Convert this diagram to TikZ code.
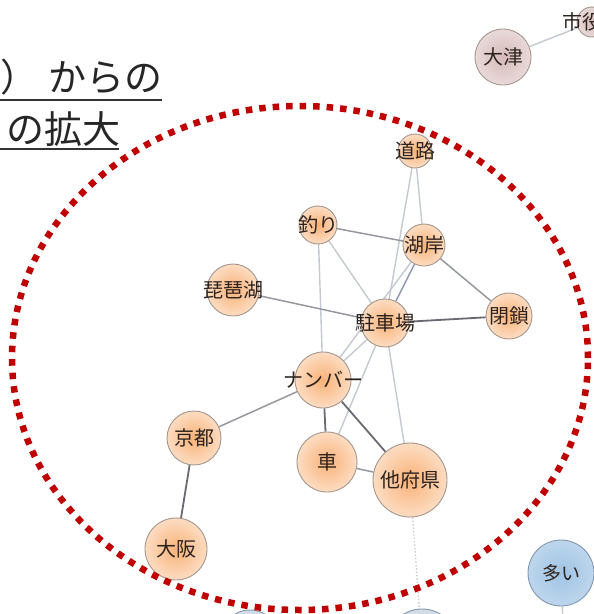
\documentclass[tikz,border=0pt]{standalone}
\usepackage{fontspec}
\setmainfont{Noto Sans CJK JP}
\usetikzlibrary{backgrounds}
\definecolor{kwfill}{RGB}{249,178,120}
\definecolor{kwrim}{RGB}{165,150,140}
\definecolor{otsufill}{RGB}{214,186,186}
\definecolor{bluefill}{RGB}{160,196,228}
\definecolor{bluerim}{RGB}{130,150,175}
\definecolor{greyblue}{RGB}{185,200,215}
\definecolor{edgedark}{RGB}{105,105,115}
\definecolor{edgemid}{RGB}{150,152,160}
\definecolor{edgeblue}{RGB}{140,152,178}
\definecolor{edgelight}{RGB}{196,200,210}
\definecolor{circlered}{RGB}{192,0,0}
\definecolor{labeltext}{RGB}{45,35,30}

\begin{document}
\begin{tikzpicture}[x=1pt, y=-1pt,
    kw/.style={circle, draw=kwrim, line width=0.9pt, inner sep=0pt, minimum size=#1,
      inner color=kwfill, outer color=kwfill!45},
    every label/.style={font=\fontsize{20}{20}\selectfont, text=labeltext},
    strong/.style={draw=edgedark, line width=1.8pt},
    mid/.style={draw=edgemid, line width=1.5pt},
    weak/.style={draw=edgelight, line width=1.4pt}]
    \useasboundingbox (0,0) rectangle (594,614);
    \clip (0,0) rectangle (594,614);

    % heading, cut at the left border
    \node[anchor=base east, inner sep=0pt, font=\fontsize{38}{38}\selectfont, text=black!85] (head1) at (163,91) {）\kern10pt{}からの};
    \node[anchor=base east, inner sep=0pt, font=\fontsize{38}{38}\selectfont, text=black!85] (head2) at (121,143) {の拡大};
    \draw[line width=2pt, black!80] (0,100) -- (162,100);
    \draw[line width=2pt, black!80] (0,149) -- (119,149);

    % keywords
    \node[kw=34pt, label=center:道路] (douro) at (415,151) {};
    \node[kw=38pt, label=center:釣り] (tsuri) at (318,225) {};
    \node[kw=42pt, label=center:湖岸] (kogan) at (424,245) {};
    \node[kw=52pt, label=center:琵琶湖] (biwako) at (233,290) {};
    \node[kw=48pt, label=center:駐車場] (chusha) at (385,323) {};
    \node[kw=46pt, label=center:閉鎖] (heisa) at (509,316) {};
    \node[kw=56pt, label=center:ナンバー] (number) at (323,380) {};
    \node[kw=54pt, label=center:京都] (kyoto) at (194,438) {};
    \node[kw=60pt, label=center:車] (kuruma) at (327,462) {};
    \node[kw=74pt, label=center:他府県] (tafuken) at (410,480) {};
    \node[kw=62pt, label=center:大阪] (osaka) at (176,549) {};

    % neighbouring clusters
    \node[kw=56pt, inner color=otsufill, outer color=otsufill!55, label=center:大津] (otsu) at (503,57) {};
    \node[kw=30pt, inner color=otsufill, outer color=otsufill!55, label={[xshift=-10pt]center:市役}] (shiyaku) at (592,22) {};
    \node[kw=66pt, draw=bluerim, inner color=bluefill, outer color=bluefill!70, label={[font=\fontsize{19}{19}\selectfont]center:多い}] (ooi) at (561,573) {};
    \node[kw=60pt, draw=bluerim, inner color=greyblue, outer color=greyblue!60] (lowa) at (250,640) {};
    \node[kw=72pt, draw=bluerim, inner color=greyblue, outer color=greyblue!60] (lowb) at (422,645) {};
    \coordinate (offooi) at (566,700);

    \begin{scope}[on background layer]
      \draw[weak] (douro) -- (kogan);
      \draw[weak] (douro) -- (chusha);
      \draw[mid] (tsuri) -- (kogan);
      \draw[weak] (tsuri) -- (chusha);
      \draw[weak] (tsuri) -- (number);
      \draw[mid] (kogan) -- (heisa);
      \draw[mid, draw=edgeblue] (kogan) -- (chusha);
      \draw[weak] (kogan) -- (number);
      \draw[mid] (biwako) -- (chusha);
      \draw[strong] (chusha) -- (heisa);
      \draw[weak] (chusha) -- (number);
      \draw[weak] (chusha) -- (kuruma);
      \draw[weak] (chusha) -- (tafuken);
      \draw[mid] (number) -- (kyoto);
      \draw[strong] (number) -- (kuruma);
      \draw[strong] (number) -- (tafuken);
      \draw[mid] (kuruma) -- (tafuken);
      \draw[strong] (kyoto) -- (osaka);
      \draw[weak, dotted] (tafuken) -- (lowb);
      \draw[weak] (otsu) -- (shiyaku);
      \draw[weak] (ooi) -- (offooi);
    \end{scope}

    % zoomed region
    \draw[circlered, line width=6.5pt, dash pattern=on 6.5pt off 7pt] (300,358) ellipse [x radius=288pt, y radius=252pt];
\end{tikzpicture}
\end{document}
